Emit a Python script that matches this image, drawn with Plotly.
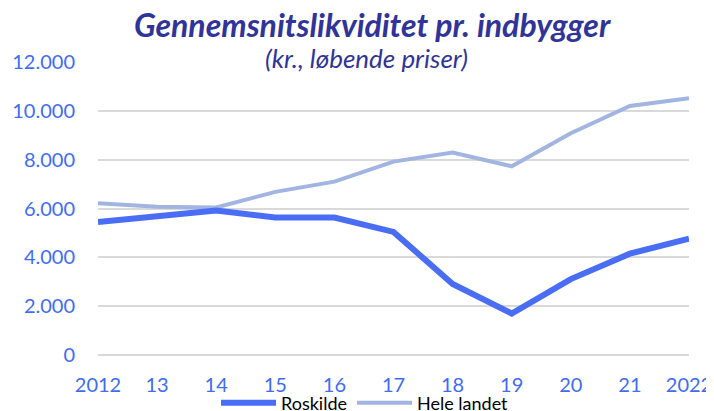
import plotly.graph_objects as go

years = list(range(2012, 2023))
tick_labels = ["2012", "13", "14", "15", "16", "17", "18", "19", "20", "21", "2022"]
roskilde = [5450, 5700, 5920, 5630, 5630, 5040, 2910, 1700, 3110, 4150, 4760]
hele_landet = [6210, 6070, 6040, 6680, 7100, 7920, 8290, 7730, 9080, 10200, 10520]
y_ticks = [0, 2000, 4000, 6000, 8000, 10000, 12000]

FONT = "Lato"
TICK_COLOR = "#3f6cf4"
OFF = 8  # page body margin offset (figure is drawn from (8, 8) in the window)
W, H = 714, 411
# target plot area in screenshot pixels: x 98..689, y 62..355
ML, MT = 98 - OFF, 62 - OFF
MR, MB = (W + OFF) - 689, (H + OFF) - 355
PW, PH = W - ML - MR, H - MT - MB


def px_to_paper(x, y):
    # x, y are pixel positions in the final screenshot
    x -= OFF
    y -= OFF
    return (x - ML) / PW, (H - MB - y) / PH


fig = go.Figure()
fig.add_trace(go.Scatter(x=years, y=hele_landet, mode="lines", name="Hele landet",
                         line=dict(color="#a2b5e2", width=4)))
fig.add_trace(go.Scatter(x=years, y=roskilde, mode="lines", name="Roskilde",
                         line=dict(color="#4a6df6", width=6)))

tx, ty = px_to_paper(372, 24)
sx, sy = px_to_paper(366, 58)
lx, ly = px_to_paper(365, 403)

fig.update_layout(
    width=W, height=H,
    margin=dict(l=ML, r=MR, t=MT, b=MB, autoexpand=False),
    paper_bgcolor="white", plot_bgcolor="white",
    separators=",.",
    font=dict(family=FONT, size=20, color=TICK_COLOR),
    showlegend=True,
    legend=dict(orientation="h", x=lx, xanchor="center", y=ly, yanchor="middle",
                traceorder="reversed", font=dict(family=FONT, size=18, color="black"),
                itemwidth=55, tracegroupgap=0, bgcolor="rgba(0,0,0,0)"),
    annotations=[
        dict(text="<b><i>Gennemsnitslikviditet pr. indbygger</i></b>", x=tx, y=ty,
             xref="paper", yref="paper", showarrow=False, xanchor="center", yanchor="middle",
             font=dict(family=FONT, size=32, color="#30349a")),
        dict(text="<i>(kr., løbende priser)</i>", x=sx, y=sy,
             xref="paper", yref="paper", showarrow=False, xanchor="center", yanchor="middle",
             font=dict(family=FONT, size=26, color="#30349a")),
    ],
)

fig.update_xaxes(range=[2012, 2022], tickvals=years, ticktext=tick_labels,
                 showgrid=False, zeroline=False, showline=False, ticks="",
                 ticklabelstandoff=16, tickfont=dict(size=20, color=TICK_COLOR))
fig.update_yaxes(range=[0, 12000], tickvals=y_ticks, tickformat=",d",
                 showgrid=True, gridcolor="#d9d9d9", gridwidth=1.5,
                 zeroline=True, zerolinecolor="#d9d9d9", zerolinewidth=1.5,
                 showline=False, ticks="",
                 ticklabelstandoff=22, tickfont=dict(size=20, color=TICK_COLOR))

fig.write_html(
    "out.html",
    post_script="document.documentElement.style.overflow='hidden';"
                "document.body.style.overflow='hidden';",
)
